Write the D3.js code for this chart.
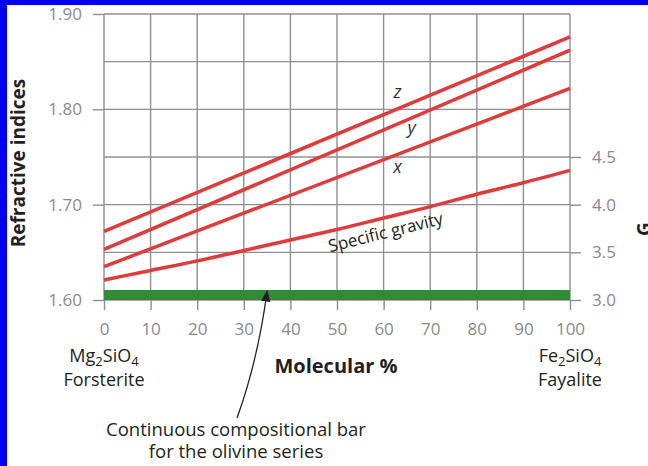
<!DOCTYPE html>
<html>
<head>
<meta charset="utf-8">
<script src="https://cdn.jsdelivr.net/npm/d3@7"></script>
<style>
  body { margin: 0; background: #fff; }
  text { font-family: "Open Sans", "Noto Sans", sans-serif; }
</style>
</head>
<body>
<div id="chart"></div>
<script>
// molecular % (Fe2SiO4) along the bottom
const molPct = [0, 10, 20, 30, 40, 50, 60, 70, 80, 90, 100];
const lineEnds = [0, 100];

// refractive indices (left axis), straight lines read at 0 and 100
const zIndex = [1.672, 1.876];
const yIndex = [1.653, 1.862];
const xIndex = [1.635, 1.822];

// specific gravity (right axis) read every 10 %
const specGravity = [3.21, 3.31, 3.41, 3.52, 3.63, 3.74, 3.86, 3.98, 4.11, 4.23, 4.36];

const leftTicks = [1.60, 1.70, 1.80, 1.90];
const rightTicks = [3.0, 3.5, 4.0, 4.5];
const gridRows = [1.60, 1.65, 1.70, 1.75, 1.80, 1.85, 1.90];
const compBar = [0, 100];

const width = 648, height = 466;
const plot = { left: 104, right: 570, top: 14, bottom: 300 };

const svg = d3.select("#chart").append("svg")
    .attr("width", width)
    .attr("height", height);

svg.append("rect").attr("width", width).attr("height", height).attr("fill", "#fff");

const x = d3.scaleLinear().domain([0, 100]).range([plot.left, plot.right]);
const y = d3.scaleLinear().domain([1.6, 1.9]).range([plot.bottom, plot.top]);
// 3.0 sits on 1.60 and 4.5 on 1.75, so the top of the frame is 6.0
const ySG = d3.scaleLinear().domain([3.0, 6.0]).range([plot.bottom, plot.top]);

const gridColor = "#8f8f8f";
const labelColor = "#8a8a8a";
const red = "#e03a3a";
const ink = "#231f20";

// grid
svg.append("g")
    .selectAll("line")
    .data(molPct)
    .join("line")
    .attr("x1", d => x(d)).attr("x2", d => x(d))
    .attr("y1", plot.top).attr("y2", plot.bottom)
    .attr("stroke", gridColor).attr("stroke-width", 1.4);

svg.append("g")
    .selectAll("line")
    .data(gridRows)
    .join("line")
    .attr("x1", plot.left).attr("x2", plot.right)
    .attr("y1", d => y(d)).attr("y2", d => y(d))
    .attr("stroke", gridColor).attr("stroke-width", 1.4);

// axes
function styleAxis(g) {
  g.select(".domain").remove();
  g.selectAll(".tick line").attr("stroke", gridColor).attr("stroke-width", 1.4);
  g.selectAll(".tick text").attr("fill", labelColor)
    .attr("font-size", 17)
    .attr("font-family", "'Open Sans', sans-serif");
}

svg.append("g")
    .attr("transform", `translate(${plot.left},0)`)
    .call(d3.axisLeft(y).tickValues(leftTicks).tickFormat(d3.format(".2f")).tickSize(11).tickPadding(11))
    .call(styleAxis);

svg.append("g")
    .attr("transform", `translate(${plot.right},0)`)
    .call(d3.axisRight(ySG).tickValues(rightTicks).tickFormat(d3.format(".1f")).tickSize(11).tickPadding(11))
    .call(styleAxis);

svg.append("g")
    .attr("transform", `translate(0,${plot.bottom})`)
    .call(d3.axisBottom(x).tickValues(molPct).tickSize(10).tickPadding(13))
    .call(styleAxis);

// green compositional bar
svg.append("rect")
    .attr("x", x(compBar[0]))
    .attr("width", x(compBar[1]) - x(compBar[0]))
    .attr("y", y(1.6) - 10)
    .attr("height", 10)
    .attr("fill", "#2e8b36");

// refractive index lines
const riLine = d3.line().x((d, i) => x(lineEnds[i])).y(d => y(d));
[zIndex, yIndex, xIndex].forEach(s => {
  svg.append("path")
      .attr("d", riLine(s))
      .attr("fill", "none")
      .attr("stroke", red)
      .attr("stroke-width", 3.5);
});

// specific gravity curve
svg.append("path")
    .attr("d", d3.line().curve(d3.curveMonotoneX).x((d, i) => x(molPct[i])).y(d => ySG(d))(specGravity))
    .attr("fill", "none")
    .attr("stroke", red)
    .attr("stroke-width", 3.5);

// line labels
const italic = [["z", 63, 1.812], ["y", 66, 1.774], ["x", 63, 1.733]];
svg.append("g")
    .selectAll("text")
    .data(italic)
    .join("text")
    .attr("x", d => x(d[1]))
    .attr("y", d => y(d[2]))
    .attr("text-anchor", "middle")
    .attr("font-style", "italic")
    .attr("font-size", 18)
    .attr("fill", "#333")
    .text(d => d[0]);

svg.append("text")
    .attr("transform", "translate(387,238) rotate(-14)")
    .attr("text-anchor", "middle")
    .attr("font-size", 17)
    .attr("fill", ink)
    .text("Specific gravity");

// axis titles
svg.append("text")
    .attr("transform", `translate(25,${(plot.top + plot.bottom) / 2 + 6}) rotate(-90)`)
    .attr("text-anchor", "middle")
    .attr("font-size", 19)
    .attr("font-weight", "bold")
    .attr("fill", ink)
    .text("Refractive indices");

// right title is cut by the page edge; only its first letter shows
svg.append("text")
    .attr("transform", "translate(651,236) rotate(-90)")
    .attr("text-anchor", "start")
    .attr("font-size", 19)
    .attr("font-weight", "bold")
    .attr("fill", ink)
    .text("G");

svg.append("text")
    .attr("x", 336).attr("y", 373)
    .attr("text-anchor", "middle")
    .attr("font-size", 20)
    .attr("font-weight", "bold")
    .attr("fill", ink)
    .text("Molecular %");

// end member labels
function formula(g, parts, cx, cy) {
  const t = g.append("text")
      .attr("x", cx).attr("y", cy)
      .attr("text-anchor", "middle")
      .attr("font-size", 18)
      .attr("fill", ink);
  let shift = 0;
  parts.forEach(p => {
    const want = p.sub ? 4 : 0;
    const ts = t.append("tspan").attr("dy", want - shift).text(p.t);
    if (p.sub) ts.attr("font-size", 13);
    shift = want;
  });
}
const ends = svg.append("g");
formula(ends, [{ t: "Mg" }, { t: "2", sub: true }, { t: "SiO" }, { t: "4", sub: true }], x(0), 362);
formula(ends, [{ t: "Fe" }, { t: "2", sub: true }, { t: "SiO" }, { t: "4", sub: true }], x(100), 362);
ends.append("text").attr("x", x(0)).attr("y", 386).attr("text-anchor", "middle")
    .attr("font-size", 18).attr("fill", ink).text("Forsterite");
ends.append("text").attr("x", x(100)).attr("y", 386).attr("text-anchor", "middle")
    .attr("font-size", 18).attr("fill", ink).text("Fayalite");

// callout for the bar
svg.append("defs").append("marker")
    .attr("id", "head")
    .attr("viewBox", "0 0 10 10")
    .attr("refX", 9).attr("refY", 5)
    .attr("markerWidth", 9).attr("markerHeight", 9)
    .attr("orient", "auto")
    .append("path")
    .attr("d", "M0,1 L10,5 L0,9 Z")
    .attr("fill", ink);

const tip = [x(35), y(1.6) - 9];
svg.append("path")
    .attr("d", `M237,418 Q258,360 ${tip[0]},${tip[1]}`)
    .attr("fill", "none")
    .attr("stroke", ink)
    .attr("stroke-width", 1.3)
    .attr("marker-end", "url(#head)");

svg.append("text").attr("x", 236).attr("y", 436).attr("text-anchor", "middle")
    .attr("font-size", 18.5).attr("fill", ink).text("Continuous compositional bar");
svg.append("text").attr("x", 236).attr("y", 458).attr("text-anchor", "middle")
    .attr("font-size", 18.5).attr("fill", ink).text("for the olivine series");

// blue frame bands
svg.append("rect").attr("x", 0).attr("y", 0).attr("width", 7).attr("height", height).attr("fill", "#0000f0");
svg.append("rect").attr("x", 0).attr("y", 0).attr("width", width).attr("height", 5).attr("fill", "#0000f0");
</script>
</body>
</html>
